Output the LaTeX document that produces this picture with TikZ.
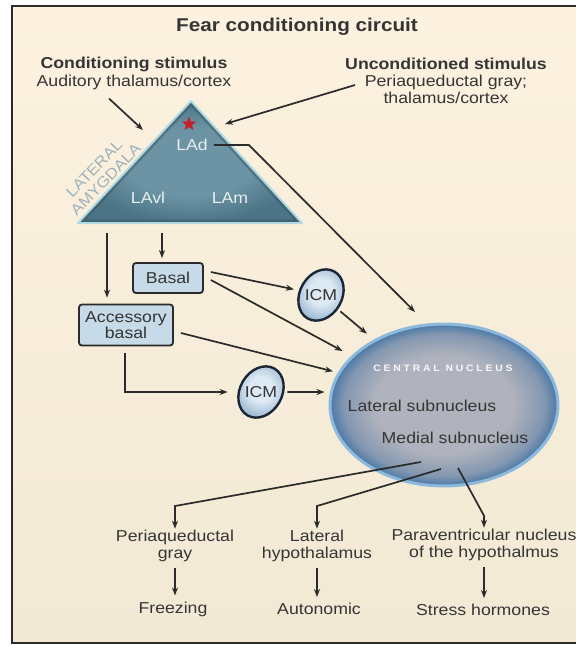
\documentclass[tikz,border=0pt]{standalone}
\usepackage{fontspec}
\setmainfont{Liberation Sans}[FakeStretch=1.12]
\newfontfamily\spacedcaps{Liberation Sans}[FakeStretch=1.12,LetterSpace=30]
\usetikzlibrary{arrows.meta,shapes.geometric}

\definecolor{paper}{HTML}{FCF2DF}
\definecolor{paperlow}{HTML}{F2E9D5}
\definecolor{ink}{HTML}{2B2B2B}
\definecolor{txt}{HTML}{353535}
\definecolor{lain}{HTML}{6C94A5}
\definecolor{laout}{HTML}{4B7486}
\definecolor{laedge}{HTML}{B2DAE4}
\definecolor{laname}{HTML}{9FB2BB}
\definecolor{cnin}{HTML}{B0B3BD}
\definecolor{cnmid}{HTML}{8397B0}
\definecolor{cnout}{HTML}{4A78A6}
\definecolor{cnedge}{HTML}{8DBADC}
\definecolor{boxfill}{HTML}{C6DAE7}
\definecolor{icmin}{HTML}{DDE9F3}
\definecolor{icmout}{HTML}{A3BFD6}
\definecolor{icmedge}{HTML}{1B2536}
\definecolor{starred}{HTML}{C4202B}

\pgfdeclareradialshading{lashade}{\pgfpoint{0bp}{0bp}}{color(0bp)=(lain); color(14bp)=(lain); color(25bp)=(laout); color(50bp)=(laout)}
\pgfdeclareradialshading{cnshade}{\pgfpoint{0bp}{0bp}}{color(0bp)=(cnin); color(15bp)=(cnin); color(22bp)=(cnmid); color(25bp)=(cnout); color(50bp)=(cnout)}
\pgfdeclareradialshading{icmshade}{\pgfpoint{0bp}{0bp}}{color(0bp)=(icmin); color(12bp)=(icmin); color(25bp)=(icmout); color(50bp)=(icmout)}

\newcommand\bodyfont{\fontsize{15.8}{17.5}\selectfont}

\begin{document}
\begin{tikzpicture}[x=1pt, y=-1pt,
    lbl/.style={font=\bodyfont, text=txt, inner sep=1pt, align=center},
    intri/.style={font=\bodyfont, text=white!85!lain, inner sep=1pt},
    nbox/.style={draw=ink, line width=1.8pt, fill=boxfill, rounded corners=3pt,
        font=\bodyfont, text=txt, align=center, inner sep=0pt},
    icm/.style={ellipse, draw=icmedge, line width=2.4pt, shade, shading=icmshade,
        minimum width=42pt, minimum height=54pt, rotate=-30, inner sep=0pt},
    arr/.style={-{Stealth[length=8pt,width=6pt]}, line width=1.7pt, draw=ink}]
    \useasboundingbox (0,0) rectangle (576,646);
    \clip (0,0) rectangle (576,646);
    \fill[white] (0,0) rectangle (576,646);
    \shade[top color=paper, bottom color=paperlow] (12,6) rectangle (600,643);
    \draw[ink, line width=2pt] (12,6) rectangle (600,643);

    \node[lbl, font=\bfseries\fontsize{18.5}{20}\selectfont] (title) at (297,27) {Fear conditioning circuit};
    \node[lbl, font=\fontsize{15.8}{18}\selectfont] (cs) at (134,73) {{\bfseries Conditioning stimulus}\\Auditory thalamus/cortex};
    \node[lbl, font=\fontsize{15.8}{17}\selectfont] (us) at (446,81) {{\bfseries Unconditioned stimulus}\\Periaqueductal gray;\\thalamus/cortex};

    % lateral amygdala
    \coordinate (la-top) at (191,101);
    \coordinate (la-right) at (302,223);
    \coordinate (la-left) at (78,223);
    \shade[shading=lashade] (la-top) -- (la-right) -- (la-left) -- cycle;
    \begin{scope}
        \clip (la-top) -- (la-right) -- (la-left) -- cycle;
        \draw[laout!70!black, line width=7pt, opacity=.45, line join=round] (la-top) -- (la-right) -- (la-left) -- cycle;
    \end{scope}
    \draw[laedge, line width=2pt, line join=round] (la-top) -- (la-right) -- (la-left) -- cycle;
    \node[star, star points=5, star point ratio=2.3, fill=starred, minimum size=15pt, inner sep=0pt] (star) at (189,124) {};
    \node[intri] (lad) at (192,145) {LAd};
    \node[intri] (lavl) at (148,198) {LAvl};
    \node[intri] (lam) at (230,198) {LAm};
    \node[rotate=46, align=center, font=\fontsize{15}{16}\selectfont, text=laname] (laname) at (100,174) {LATERAL\\AMYGDALA};
    \coordinate (la-cs) at (143,130);
    \coordinate (la-us) at (225,124);
    \coordinate (la-acc) at (107,233);
    \coordinate (la-bas) at (162,233);

    \node[nbox, minimum width=70pt, minimum height=30pt] (basal) at (168,278) {Basal};
    \node[nbox, minimum width=94pt, minimum height=41pt, font=\fontsize{15.8}{16}\selectfont] (acc) at (126,325) {Accessory\\basal};
    \node[icm] (icm1) at (321,295) {};
    \node[lbl] (icm1-t) at (icm1) {ICM};
    \node[icm] (icm2) at (261,392) {};
    \node[lbl] (icm2-t) at (icm2) {ICM};

    % central nucleus
    \node[ellipse, shade, shading=cnshade, draw=cnedge, line width=3pt,
        minimum width=228pt, minimum height=162pt, inner sep=0pt] (ce) at (444,405) {};
    \node[font=\spacedcaps\bfseries\fontsize{9.3}{11}\selectfont, text=white!92!cnin] (ce-t) at (443,368) {CENTRAL NUCLEUS};
    \node[lbl] (ce-lat) at (422,406) {Lateral subnucleus};
    \node[lbl] (ce-med) at (455,438) {Medial subnucleus};
    \coordinate (ce-lad) at (415,312);

    \node[lbl] (pag) at (175,546) {Periaqueductal\\gray};
    \node[lbl] (lh) at (317,546) {Lateral\\hypothalamus};
    \node[lbl] (pvn) at (484,545) {Paraventricular nucleus\\of the hypothalmus};
    \node[lbl] (frz) at (173,609) {Freezing};
    \node[lbl] (aut) at (319,609) {Autonomic};
    \node[lbl] (str) at (483,610) {Stress hormones};
    \coordinate (fork) at (0,506);

    \draw[arr] ([shift={(-25,8)}]cs.south) -- (la-cs);
    \draw[arr] ([shift={(11,4)}]us.west) -- (la-us);
    \draw[arr] ([shift={(5,0)}]lad.east) -- ++(35,0) -- (ce-lad);
    \draw[arr, shorten >=6pt] (la-acc) -- (la-acc |- acc.north);
    \draw[arr, shorten >=4pt] (la-bas) -- (la-bas |- basal.north);
    \draw[arr, shorten >=5pt] ([shift={(7,-6)}]basal.east) -- (icm1);
    \draw[arr, shorten >=10pt] ([shift={(7,2)}]basal.east) -- (ce.152);
    \draw[arr, shorten >=5pt] ([shift={(7,8)}]acc.east) -- (ce.163);
    \draw[arr, shorten <=3pt, shorten >=9pt] (icm1) -- (ce.137);
    \draw[arr, shorten >=10pt] ([shift={(-1,7)}]acc.south) |- (icm2);
    \draw[arr, shorten <=3pt, shorten >=4pt] (icm2) -- (icm2 -| ce.west);

    \draw[arr] ([shift={(-23,57)}]ce.center) -- (pag.north |- fork) -- (pag.north);
    \draw[arr] ([shift={(-3,64)}]ce.center) -- (lh.north |- fork) -- (lh.north);
    \draw[arr] ([shift={(14,63)}]ce.center) -- ([shift={(0,-12)}]pvn.north) -- (pvn.north);
    \draw[arr, shorten <=5pt, shorten >=5pt] (pag.south) -- (pag.south |- frz.north);
    \draw[arr, shorten <=5pt, shorten >=5pt] (lh.south) -- (lh.south |- aut.north);
    \draw[arr, shorten <=5pt, shorten >=5pt] (pvn.south) -- (pvn.south |- str.north);
\end{tikzpicture}
\end{document}
